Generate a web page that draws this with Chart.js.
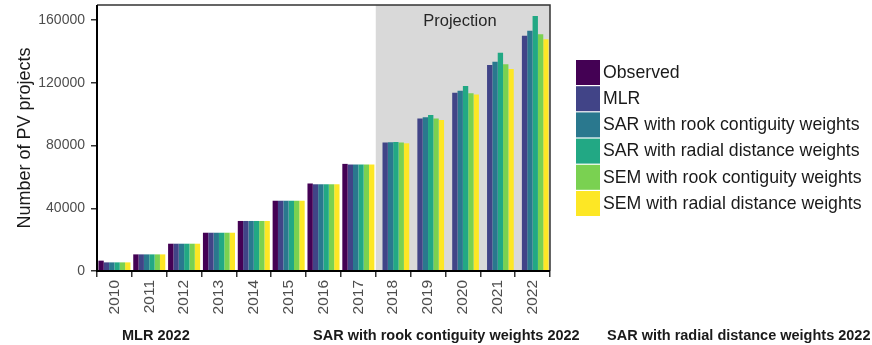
<!DOCTYPE html>
<html lang="en">
<head>
<meta charset="UTF-8">
<title>Number of PV projects</title>
<script src="https://cdn.jsdelivr.net/npm/chart.js"></script>
<style>
html, body {
  margin: 0;
  padding: 0;
  background: #ffffff;
}
#wrap {
  position: relative;
  width: 872px;
  height: 345px;
}
</style>
</head>
<body>
<div id="wrap">
  <canvas id="chart" width="872" height="345"></canvas>
</div>

<script>
// data
const years = ["2010", "2011", "2012", "2013", "2014", "2015", "2016", "2017", "2018", "2019", "2020", "2021", "2022"];
const seriesNames = [
  "Observed",
  "MLR",
  "SAR with rook contiguity weights",
  "SAR with radial distance weights",
  "SEM with rook contiguity weights",
  "SEM with radial distance weights"
];
const seriesColors = ["#440154", "#414487", "#2a788e", "#22a884", "#7ad151", "#fde725"];

const observed  = [6600, 10600, 17400, 24400, 31900, 44800, 55800, 68300, null, null, null, null, null];
const mlr       = [5500, 10600, 17400, 24400, 31900, 44800, 55300, 67900, 82000, 97300, 113700, 131300, 150000];
const sarRook   = [5500, 10600, 17400, 24400, 31900, 44800, 55300, 67900, 82100, 98000, 115000, 133400, 153200];
const sarRadial = [5500, 10600, 17400, 24400, 31900, 44800, 55300, 67900, 82300, 99500, 118000, 139200, 162600];
const semRook   = [5500, 10600, 17400, 24400, 31900, 44800, 55300, 67900, 82000, 97300, 113300, 131800, 150900];
const semRadial = [5500, 10600, 17400, 24400, 31900, 44800, 55300, 67900, 81400, 96300, 112600, 128800, 147700];

const yTicks = [0, 40000, 80000, 120000, 160000];
const projectionStart = "2018";
const projectionLabel = "Projection";
const panelTitles = ["MLR 2022", "SAR with rook contiguity weights 2022", "SAR with radial distance weights 2022"];

const FONT = "'Liberation Sans', Arial, sans-serif";
const allSeries = [observed, mlr, sarRook, sarRadial, semRook, semRadial];

// grey projection band + label
const projectionBand = {
  id: "projectionBand",
  beforeDatasetsDraw(chart) {
    const { ctx, chartArea, scales } = chart;
    const idx = years.indexOf(projectionStart);
    const half = (scales.x.getPixelForValue(1) - scales.x.getPixelForValue(0)) / 2;
    const x0 = scales.x.getPixelForValue(idx) - half;
    ctx.save();
    ctx.fillStyle = "#d9d9d9";
    ctx.fillRect(x0, chartArea.top, chartArea.right - x0, chartArea.bottom - chartArea.top);
    ctx.fillStyle = "#262626";
    ctx.font = "16.5px " + FONT;
    ctx.textAlign = "center";
    ctx.textBaseline = "middle";
    ctx.fillText(projectionLabel, (x0 + chartArea.right) / 2 - 3, 21);
    ctx.restore();
  },
  afterDatasetsDraw(chart) {
    const { ctx, chartArea } = chart;
    ctx.save();
    // panel frame
    ctx.strokeStyle = "#333333";
    ctx.lineWidth = 1.5;
    ctx.beginPath();
    ctx.moveTo(chartArea.left, chartArea.top);
    ctx.lineTo(chartArea.right, chartArea.top);
    ctx.lineTo(chartArea.right, chartArea.bottom);
    ctx.stroke();
    ctx.strokeStyle = "#000000";
    ctx.lineWidth = 2;
    ctx.beginPath();
    ctx.moveTo(chartArea.left, chartArea.top);
    ctx.lineTo(chartArea.left, chartArea.bottom);
    ctx.lineTo(chartArea.right, chartArea.bottom);
    ctx.stroke();
    ctx.restore();
  }
};

// legend on the right, boxes stacked
const sideLegend = {
  id: "sideLegend",
  afterDraw(chart) {
    const { ctx } = chart;
    ctx.save();
    ctx.font = "17.7px " + FONT;
    ctx.textBaseline = "middle";
    ctx.textAlign = "left";
    chart.data.datasets.forEach((ds, i) => {
      const y = 60 + i * 26.2;
      ctx.fillStyle = ds.backgroundColor;
      ctx.fillRect(576, y, 24, 25);
      ctx.fillStyle = "#1a1a1a";
      ctx.fillText(ds.label, 603, y + 13);
    });
    ctx.restore();
  }
};

// titles of the next panels, cut off at the bottom
const panelCaptions = {
  id: "panelCaptions",
  afterDraw(chart) {
    const { ctx } = chart;
    const xs = [122, 313, 607];
    ctx.save();
    ctx.font = "bold 14.5px " + FONT;
    ctx.fillStyle = "#1a1a1a";
    ctx.textBaseline = "middle";
    ctx.textAlign = "left";
    panelTitles.forEach((t, i) => ctx.fillText(t, xs[i], 336));
    ctx.restore();
  }
};

new Chart(document.getElementById("chart"), {
  type: "bar",
  data: {
    labels: years,
    datasets: seriesNames.map((name, i) => ({
      label: name,
      data: allSeries[i],
      backgroundColor: seriesColors[i],
      borderWidth: 0,
      categoryPercentage: 0.92,
      barPercentage: 1.0
    }))
  },
  options: {
    responsive: false,
    animation: false,
    layout: { padding: { top: 5, right: 322, left: 0, bottom: 0 } },
    plugins: {
      legend: { display: false },
      tooltip: { enabled: false }
    },
    scales: {
      x: {
        grid: { display: true, drawOnChartArea: false, drawTicks: true, tickLength: 6, color: "#333333", lineWidth: 1.5 },
        border: { display: false },
        ticks: {
          minRotation: 90,
          maxRotation: 90,
          padding: 3,
          color: "#4d4d4d",
          font: { family: FONT, size: 15.5 }
        },
        afterFit(scale) {
          scale.height = 74;
          scale.paddingLeft = 0;
          scale.paddingRight = 0;
        }
      },
      y: {
        min: 0,
        max: 169600,
        grid: { display: true, drawOnChartArea: false, drawTicks: true, tickLength: 6, color: "#333333", lineWidth: 1.5 },
        border: { display: false },
        ticks: {
          padding: 6,
          color: "#4d4d4d",
          font: { family: FONT, size: 14 },
          callback: v => String(v)
        },
        afterBuildTicks(scale) {
          scale.ticks = yTicks.map(v => ({ value: v }));
        },
        title: {
          display: true,
          text: "Number of PV projects",
          color: "#1a1a1a",
          font: { family: FONT, size: 18 },
          padding: { top: 14, bottom: 0 }
        },
        afterFit(scale) {
          scale.width = 97;
          scale.paddingTop = 0;
          scale.paddingBottom = 0;
        }
      }
    }
  },
  plugins: [projectionBand, sideLegend, panelCaptions]
});
</script>
</body>
</html>
